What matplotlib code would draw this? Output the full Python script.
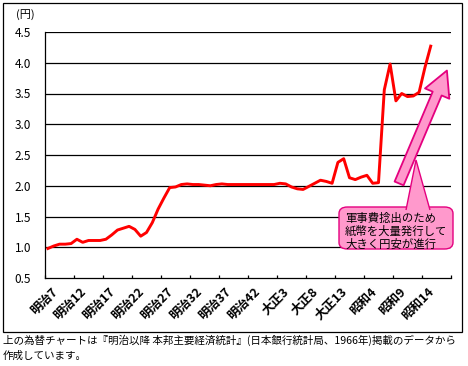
import numpy as np
import matplotlib
matplotlib.use("Agg")
import matplotlib.pyplot as plt
from matplotlib.patches import Rectangle, FancyBboxPatch, Polygon, FancyArrowPatch

plt.rcParams["font.family"] = ["Noto Sans CJK JP", "DejaVu Sans"]

# yen per dollar, yearly 1874 (明治7) .. 1940 (昭和15)
years = list(range(1874, 1941))
yen_rate = [
    0.98, 1.02, 1.05, 1.05, 1.06, 1.13, 1.08, 1.11, 1.11, 1.11,
    1.13, 1.20, 1.28, 1.31, 1.34, 1.29, 1.18, 1.24, 1.40, 1.62,
    1.80, 1.97, 1.98, 2.02, 2.03, 2.02, 2.02, 2.01, 2.00, 2.02,
    2.03, 2.02, 2.02, 2.02, 2.02, 2.02, 2.02, 2.02, 2.02, 2.02,
    2.04, 2.03, 1.98, 1.95, 1.94, 1.99, 2.04, 2.09, 2.07, 2.04,
    2.38, 2.44, 2.13, 2.10, 2.14, 2.17, 2.04, 2.05, 3.56, 3.98,
    3.38, 3.50, 3.45, 3.46, 3.52, 3.92, 4.27,
]
n_categories = 70  # category axis runs 1874..1943
tick_labels = ["明治7", "明治12", "明治17", "明治22", "明治27", "明治32", "明治37",
               "明治42", "大正3", "大正8", "大正13", "昭和4", "昭和9", "昭和14"]
y_ticks = [0.5, 1.0, 1.5, 2.0, 2.5, 3.0, 3.5, 4.0, 4.5]

note_lines = ["軍事費捻出のため", "紙幣を大量発行して", "大きく円安が進行"]
caption = ("上の為替チャートは『明治以降 本邦主要経済統計』(日本銀行統計局、1966年)掲載のデータから\n"
           "作成しています。")

W, H = 468, 366
fig = plt.figure(figsize=(W / 100, H / 100), dpi=100)
ax = fig.add_axes([45 / W, 1 - 278 / H, 406 / W, 246 / H])

x = np.arange(len(yen_rate))
ax.plot(x, yen_rate, color="#FF0000", lw=2.1, solid_joinstyle="round", zorder=3)

ax.set_xlim(-0.5, n_categories - 0.5)
ax.set_ylim(0.5, 4.5)
ax.set_yticks(y_ticks)
ax.set_yticklabels([f"{v:.1f}" for v in y_ticks], fontsize=8.5)
ax.tick_params(axis="y", length=0, pad=10)
for v in y_ticks[1:]:
    ax.axhline(v, color="black", lw=0.9, zorder=1)

ax.set_xticks(np.arange(0, len(tick_labels) * 5, 5) + 0.5)
ax.set_xticklabels(tick_labels, fontsize=9, fontweight="bold", rotation=45,
                   ha="right", va="top", rotation_mode="anchor")
ax.tick_params(axis="x", which="major", length=0, pad=5)
ax.set_xticks(np.arange(-0.5, n_categories, 5), minor=True)
ax.tick_params(axis="x", which="minor", direction="in", length=2.5, width=0.9)

for s in ["top", "right"]:
    ax.spines[s].set_visible(False)
for s in ["left", "bottom"]:
    ax.spines[s].set_linewidth(0.9)

fig.text(25 / W, 1 - 15 / H, "(円)", fontsize=8, ha="center", va="center")

# outer frame
fig.patches.append(Rectangle((3 / W, 1 - 332 / H), 459 / W, 329 / H,
                             transform=fig.transFigure, fill=False,
                             edgecolor="black", lw=0.9))
fig.text(3 / W, 1 - 335 / H, caption, fontsize=7.6, ha="left", va="top",
         linespacing=1.55)

# pink arrow and callout
pink = "#FF99CC"
magenta = "#E4007F"
arrow = FancyArrowPatch((398 / W, 1 - 186 / H), (448 / W, 1 - 68 / H),
                        transform=fig.transFigure,
                        arrowstyle="simple,head_width=19,head_length=18,tail_width=7",
                        facecolor=pink, edgecolor=magenta, lw=1.3, zorder=5)
fig.patches.append(arrow)

box = FancyBboxPatch((339 / W, 1 - 249 / H), 114 / W, 42 / H,
                     boxstyle="round,pad=0,rounding_size=0.018",
                     transform=fig.transFigure, facecolor=pink,
                     edgecolor=magenta, lw=1.0, zorder=5)
fig.patches.append(box)
tri = Polygon([(406 / W, 1 - 210 / H), (416 / W, 1 - 160 / H), (430 / W, 1 - 210 / H)],
              closed=False, transform=fig.transFigure, facecolor=pink,
              edgecolor=magenta, lw=1.0, zorder=6)
fig.patches.append(tri)
for i, line in enumerate(note_lines):
    fig.text(345 / W, 1 - (218 + 13 * i) / H, line, fontsize=8.2, ha="left",
             va="center", zorder=7)

fig.savefig("out.png", dpi=100)
